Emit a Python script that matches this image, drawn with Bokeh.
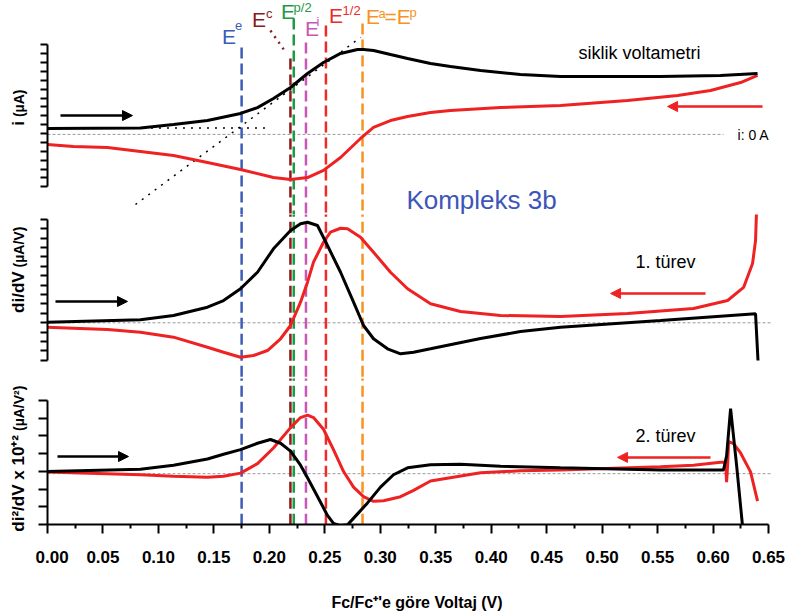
from math import pi
from bokeh.plotting import figure
from bokeh.layouts import column, row
from bokeh.models import (Range1d, FixedTicker, Arrow, NormalHead, PrintfTickFormatter,
                          ColumnDataSource, CustomJSTickFormatter)
from bokeh.core.properties import value
from bokeh.embed import file_html
from bokeh.resources import INLINE

# ---------------- data ----------------
x_ticks = [0.00, 0.05, 0.10, 0.15, 0.20, 0.25, 0.30, 0.35, 0.40, 0.45, 0.50, 0.55, 0.60, 0.65]
x_minor = [0.025, 0.075, 0.125, 0.175, 0.225, 0.275, 0.325, 0.375, 0.425, 0.475, 0.525, 0.575, 0.625]

# characteristic potentials (V)
E_vals = [0.175, 0.219, 0.222, 0.233, 0.251, 0.284]
E_top = [4.85, 4.23, 6.48, 5.13, 6.08, 6.20]     # upper end of each marker line (panel-1 units)
E_colors = ["#3D5CB8", "#8B1C1C", "#1E9A45", "#C957B5", "#EE2A2A", "#F7931E"]

# cyclic voltammogram, forward (black) and reverse (red) sweeps
cv_fwd_v = [0.000, 0.0838, 0.1136, 0.1442, 0.1740, 0.1893, 0.2037, 0.2191, 0.2344, 0.2488, 0.2642,
            0.2795, 0.2849, 0.2939, 0.3092, 0.3246, 0.3453, 0.3633, 0.3904, 0.4264, 0.4625, 0.5526,
            0.6067, 0.6401]
cv_fwd_i = [0.28, 0.31, 0.51, 0.73, 1.13, 1.46, 1.97, 2.59, 3.38, 4.00, 4.51,
            4.73, 4.73, 4.68, 4.45, 4.23, 3.94, 3.77, 3.55, 3.32, 3.21, 3.21,
            3.27, 3.38]
cv_rev_v = [0.6401, 0.6248, 0.5977, 0.5680, 0.5229, 0.4625, 0.4084, 0.3633, 0.3453, 0.3246, 0.3092,
            0.2939, 0.2822, 0.2642, 0.2488, 0.2344, 0.2191, 0.2037, 0.1740, 0.1442, 0.1136, 0.0838,
            0.0541, 0.0234, 0.000]
cv_rev_i = [3.27, 2.87, 2.42, 2.14, 1.86, 1.58, 1.46, 1.30, 1.18, 0.96, 0.73,
            0.34, -0.28, -1.35, -2.08, -2.48, -2.59, -2.48, -2.03, -1.63, -1.24, -1.01,
            -0.79, -0.73, -0.62]

# tangent construction lines on the voltammogram
tan_base_v = [0.050, 0.2010]
tan_base_i = [0.31, 0.31]
tan_rise_v = [0.0793, 0.2822]
tan_rise_i = [-4.0, 5.41]
lead_c_v = [0.2010, 0.2155]
lead_c_i = [5.80, 4.51]

# first derivative
d1_fwd_v = [0.000, 0.0838, 0.1136, 0.1442, 0.1587, 0.1740, 0.1893, 0.2037, 0.2191, 0.2281, 0.2344,
            0.2434, 0.2524, 0.2642, 0.2759, 0.2849, 0.2939, 0.3065, 0.3183, 0.3300, 0.3453, 0.3904,
            0.4264, 0.4625, 0.5526, 0.6383, 0.6405]
d1_fwd_y = [0.06, 0.32, 0.78, 1.66, 2.37, 3.62, 5.38, 7.87, 9.82, 10.53, 10.70,
            10.35, 8.22, 5.38, 2.19, -0.29, -1.70, -2.77, -3.30, -3.13, -2.77, -1.67,
            -0.93, -0.47, 0.24, 0.96, -4.01]
d1_rev_v = [0.000, 0.0234, 0.0541, 0.0838, 0.1136, 0.1442, 0.1587, 0.1740, 0.1857, 0.1983, 0.2101,
            0.2191, 0.2281, 0.2344, 0.2398, 0.2488, 0.2551, 0.2642, 0.2705, 0.2822, 0.2939, 0.3092,
            0.3246, 0.3453, 0.3723, 0.4084, 0.4625, 0.5229, 0.5824, 0.6131, 0.6275, 0.6356, 0.6383,
            0.6392]
d1_rev_y = [-0.47, -0.57, -0.71, -1.00, -1.53, -2.60, -3.13, -3.66, -3.48, -2.95, -1.70,
            -0.29, 2.19, 4.32, 6.45, 8.57, 9.64, 10.06, 10.00, 9.11, 7.51, 5.38,
            3.62, 2.02, 1.20, 0.78, 0.67, 0.99, 1.52, 2.37, 3.76, 6.31, 8.76,
            11.95]

# second derivative
d2_fwd_v = [0.000, 0.0838, 0.1136, 0.1442, 0.1587, 0.1740, 0.1893, 0.2010, 0.2101, 0.2191, 0.2281,
            0.2344, 0.2434, 0.2524, 0.2578, 0.2642, 0.2705, 0.2795, 0.2885, 0.3002, 0.3119, 0.3246,
            0.3453, 0.3723, 0.4084, 0.4625, 0.5526, 0.6094, 0.6122, 0.6158, 0.6212, 0.6266, 0.6284]
d2_fwd_y = [-0.01, 0.12, 0.35, 0.70, 0.97, 1.23, 1.59, 1.80, 1.59, 1.14, 0.35,
            -0.36, -1.42, -2.49, -2.94, -3.06, -3.02, -2.40, -1.78, -0.89, -0.19, 0.20,
            0.38, 0.40, 0.29, 0.20, 0.08, 0.08, 0.88, 3.54, 0.35, -3.11, -3.91]
d2_rev_v = [0.000, 0.0838, 0.1136, 0.1442, 0.1587, 0.1740, 0.1893, 0.2037, 0.2191, 0.2281, 0.2344,
            0.2398, 0.2488, 0.2578, 0.2669, 0.2759, 0.2849, 0.2939, 0.3029, 0.3183, 0.3300, 0.3453,
            0.3904, 0.4264, 0.4625, 0.5526, 0.5824, 0.6067, 0.6113, 0.6122, 0.6131, 0.6140, 0.6185,
            0.6248, 0.6338, 0.6401]
d2_rev_y = [-0.04, -0.19, -0.28, -0.33, -0.28, -0.10, 0.44, 1.32, 2.47, 3.04, 3.18,
            3.04, 2.38, 1.23, -0.01, -0.89, -1.43, -1.69, -1.66, -1.43, -1.07, -0.54,
            -0.08, 0.03, 0.08, 0.26, 0.35, 0.51, 0.51, -0.61, 0.35, 1.68, 1.57,
            1.04, -0.03, -1.68]

# axis titles (y titles are split into quantity and unit parts)
y_title_main = ["i", "di/dV", "di²/dV x 10⁺²"]
y_title_unit = ["(µA)", "(µA/V)", "(µA/V²)"]
x_title = "Fc/Fc⁺'e göre Voltaj (V)"

# ---------------- styling ----------------
FONT = "Liberation Sans"
BLACK = "#000000"
RED = "#EE2222"
GRAY = "#9A9A9A"
MAIN_W = 753
LABEL_W = 35
xr = Range1d(0, 0.6662)


def make_fig(h, y0, y1, xaxis=False, bottom=0):
    p = figure(width=MAIN_W, height=h, x_range=xr, y_range=Range1d(y0, y1),
               output_backend="svg", toolbar_location=None,
               x_axis_location="below" if xaxis else None,
               min_border_left=12, min_border_right=2,
               min_border_top=0, min_border_bottom=bottom)
    p.grid.visible = False
    p.outline_line_color = None
    p.background_fill_color = "white"
    p.border_fill_color = "white"
    return p


def style_y(p, major, bounds, tick_len):
    ax = p.yaxis[0]
    ax.ticker = FixedTicker(ticks=major, minor_ticks=[])
    ax.bounds = bounds
    ax.formatter = CustomJSTickFormatter(code="return ''")
    ax.major_label_standoff = 0
    ax.axis_line_width = 2
    ax.major_tick_line_width = 2
    ax.major_tick_in = 0
    ax.major_tick_out = tick_len
    ax.minor_tick_in = 0
    ax.minor_tick_out = 0
    ax.axis_label = None


def note(p, x, y, text, size, color=BLACK, align="left"):
    p.text(x=[x], y=[y], text=[text], text_font=value(FONT), text_font_size=size,
           text_color=color, text_align=align, text_baseline="middle")


def arrow(p, xs, xe, y, color):
    p.add_layout(Arrow(end=NormalHead(size=10, fill_color=color, line_color=color),
                       x_start=xs, y_start=y, x_end=xe, y_end=y,
                       line_color=color, line_width=2.5))


# ---------------- panel 1 : cyclic voltammogram ----------------
p1 = make_fig(214, -4.563, 7.493)
style_y(p1, [-3, -2.5, -2, -1.5, -1, -0.5, 0, 0.5, 1, 1.5, 2, 2.5, 3, 3.5, 4, 4.5, 5], (-3, 5), 7)
p1.line([0, 0.6094], [-0.05, -0.05], line_color=GRAY, line_width=1, line_dash="3 2")
p1.segment(x0=E_vals, y0=E_top, x1=E_vals, y1=[-20] * len(E_vals),
           line_color=E_colors, line_width=2.5, line_dash="11 5")
p1.line(tan_base_v, tan_base_i, line_color=BLACK, line_width=1.5, line_dash="2 6")
p1.line(tan_rise_v, tan_rise_i, line_color=BLACK, line_width=1.5, line_dash="2 6")
p1.line(lead_c_v, lead_c_i, line_color=E_colors[1], line_width=2.5, line_dash="2 5")
p1.line(cv_rev_v, cv_rev_i, line_color=RED, line_width=3)
p1.line(cv_fwd_v, cv_fwd_i, line_color=BLACK, line_width=3)

# E labels (main letter and superscript)
main_src = ColumnDataSource(dict(
    x=[0.1573, 0.1844, 0.2105, 0.2321, 0.2538, 0.2871, 0.3038],
    y=[5.48, 6.41, 6.86, 5.94, 6.66, 6.61, 6.61],
    t=["E", "E", "E", "E", "E", "E", "=E"],
    c=[E_colors[0], E_colors[1], E_colors[2], E_colors[3], E_colors[4], E_colors[5], E_colors[5]]))
sup_src = ColumnDataSource(dict(
    x=[0.1690, 0.1970, 0.2218, 0.2425, 0.2660, 0.2984, 0.3264],
    y=[6.08, 6.74, 7.08, 6.31, 6.95, 6.74, 6.83],
    t=["e", "c", "p/2", "i", "1/2", "a", "p"],
    c=[E_colors[0], E_colors[1], E_colors[2], E_colors[3], E_colors[4], E_colors[5], E_colors[5]]))
p1.text(x="x", y="y", text="t", text_color="c", source=main_src, text_font=value(FONT),
        text_font_size="21px", text_align="left", text_baseline="middle")
p1.text(x="x", y="y", text="t", text_color="c", source=sup_src, text_font=value(FONT),
        text_font_size="13px", text_align="left", text_baseline="middle")

note(p1, 0.4787, 4.535, "siklik voltametri", "18px")
note(p1, 0.6221, -0.08, "i: 0 A", "14px")
note(p1, 0.3913, -3.72, "Kompleks 3b", "26px", color="#3D55B8", align="center")
arrow(p1, 0.0117, 0.0766, 1.01, BLACK)
arrow(p1, 0.6446, 0.5590, 1.52, RED)

# ---------------- panel 2 : first derivative ----------------
p2 = make_fig(164, -5.926, 11.521)
style_y(p2, [-4, -3, -2, -1, 0, 1, 2, 3, 4, 5, 6, 7, 8, 9, 10, 11], (-4, 11), 7)
p2.line([0, 0.6519], [0, 0], line_color=GRAY, line_width=1, line_dash="3 2")
p2.segment(x0=E_vals, y0=[-50] * len(E_vals), x1=E_vals, y1=[50] * len(E_vals),
           line_color=E_colors, line_width=2.5, line_dash="11 5")
p2.line(d1_rev_v, d1_rev_y, line_color=RED, line_width=3)
p2.line(d1_fwd_v, d1_fwd_y, line_color=BLACK, line_width=3)
note(p2, 0.5301, 6.47, "1. türev", "18px")
arrow(p2, 0.0072, 0.0721, 2.27, BLACK)
arrow(p2, 0.5932, 0.5076, 3.12, RED)

# ---------------- panel 3 : second derivative ----------------
p3 = make_fig(235, -3.0, 5.245, xaxis=True, bottom=80)
style_y(p3, [-3, -2, -1, 0, 1, 2, 3, 4], (-3, 4), 9)
p3.line([0, 0.6519], [-0.13, -0.13], line_color=GRAY, line_width=1, line_dash="3 2")
p3.segment(x0=E_vals, y0=[-50] * len(E_vals), x1=E_vals, y1=[50] * len(E_vals),
           line_color=E_colors, line_width=2.5, line_dash="11 5")
p3.line(d2_rev_v, d2_rev_y, line_color=RED, line_width=3)
p3.line(d2_fwd_v, d2_fwd_y, line_color=BLACK, line_width=3)
note(p3, 0.5301, 2.02, "2. türev", "18px")
arrow(p3, 0.0090, 0.0730, 0.84, BLACK)
arrow(p3, 0.5977, 0.5139, 0.79, RED)

xa = p3.xaxis[0]
xa.ticker = FixedTicker(ticks=x_ticks, minor_ticks=x_minor)
xa.bounds = (0, 0.65)
xa.formatter = PrintfTickFormatter(format="%.2f")
xa.axis_line_width = 2
xa.major_tick_line_width = 2
xa.minor_tick_line_width = 2
xa.major_tick_in = 0
xa.major_tick_out = 9
xa.minor_tick_in = 0
xa.minor_tick_out = 4
xa.major_label_standoff = 17
xa.major_label_text_font = FONT
xa.major_label_text_font_style = "bold"
xa.major_label_text_font_size = "17px"
xa.major_label_text_color = BLACK
xa.axis_label = x_title
xa.axis_label_text_font = FONT
xa.axis_label_text_font_style = "bold"
xa.axis_label_text_font_size = "16px"
xa.axis_label_text_color = BLACK
xa.axis_label_standoff = 28

# ---------------- strip holding the rotated y titles ----------------
pl = figure(width=LABEL_W, height=613, x_range=Range1d(0, LABEL_W), y_range=Range1d(0, 613),
            output_backend="svg", toolbar_location=None, x_axis_location=None,
            y_axis_location=None, min_border=0)
pl.grid.visible = False
pl.outline_line_color = None
pl.text(x=[18, 18], y=[492.4, 342.1], text=y_title_main[:2], angle=pi / 2,
        text_font=value(FONT), text_font_style="bold", text_font_size="17px",
        text_align="right", text_baseline="middle", text_color=BLACK)
pl.text(x=[18], y=[178.5], text=y_title_main[2:], angle=pi / 2,
        text_font=value(FONT), text_font_style="bold", text_font_size="17px",
        text_align="right", text_baseline="middle", text_color=BLACK)
pl.text(x=[18, 18, 18], y=[496.4, 346.1, 182.5], text=y_title_unit, angle=pi / 2,
        text_font=value(FONT), text_font_style="bold", text_font_size="14px",
        text_align="left", text_baseline="middle", text_color=BLACK)

layout = row(pl, column(p1, p2, p3))
open("out.html", "w").write(file_html(layout, INLINE))
